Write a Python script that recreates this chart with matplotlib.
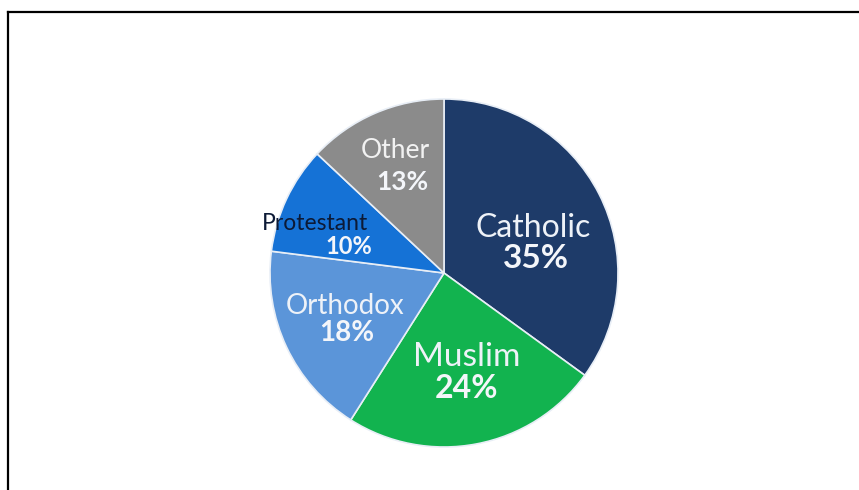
import numpy as np
import matplotlib.pyplot as plt
from matplotlib.lines import Line2D

# data
religions = ['Catholic', 'Muslim', 'Orthodox', 'Protestant', 'Other']
shares = [35, 24, 18, 10, 13]
colors = ['#1e3b69', '#12b34f', '#5b95d9', '#1572d6', '#8b8b8b']

# label layout: offsets (px) from pie centre for name and percent, font sizes, colours
name_offsets = [(89, 45), (23, -84), (-99, -33), (-129, 50), (-49, 122)]
pct_offsets = [(92, 15), (23, -115), (-97, -60), (-95, 26), (-42, 91)]
name_sizes = [23, 24, 20, 16.5, 19]
pct_sizes = [24, 23, 20, 17, 19]
name_colors = ['#eef2f8', '#eef2f8', '#eef2f8', '#0c1a36', '#f2f2f2']

W, H = 859, 490
fig = plt.figure(figsize=(W / 100, H / 100), dpi=100)
ax = fig.add_axes([0, 0, 1, 1])

cx, cy, r = 444, H - 273, 174
ax.pie(shares, colors=colors, startangle=90, counterclock=False,
       center=(cx, cy), radius=r, frame=True,
       wedgeprops=dict(edgecolor='#e8eef6', linewidth=1.2))
ax.set_xlim(0, W)
ax.set_ylim(0, H)
ax.axis('off')

for i in range(len(religions)):
    nx, ny = name_offsets[i]
    px, py = pct_offsets[i]
    ax.text(cx + nx, cy + ny, religions[i], ha='center', va='center',
            fontsize=name_sizes[i], family='Lato', color=name_colors[i])
    ax.text(cx + px, cy + py, '%d%%' % shares[i], ha='center', va='center',
            fontsize=pct_sizes[i], family='Lato', fontweight='bold', color='#f4f6fa')

# frame around the picture (top and left edges only visible)
fig.add_artist(Line2D([8 / W, 1], [1 - 12 / H, 1 - 12 / H], color='black', lw=1.6,
                      transform=fig.transFigure))
fig.add_artist(Line2D([8 / W, 8 / W], [0, 1 - 12 / H], color='black', lw=1.6,
                      transform=fig.transFigure))

fig.savefig('out.png', dpi=100)
